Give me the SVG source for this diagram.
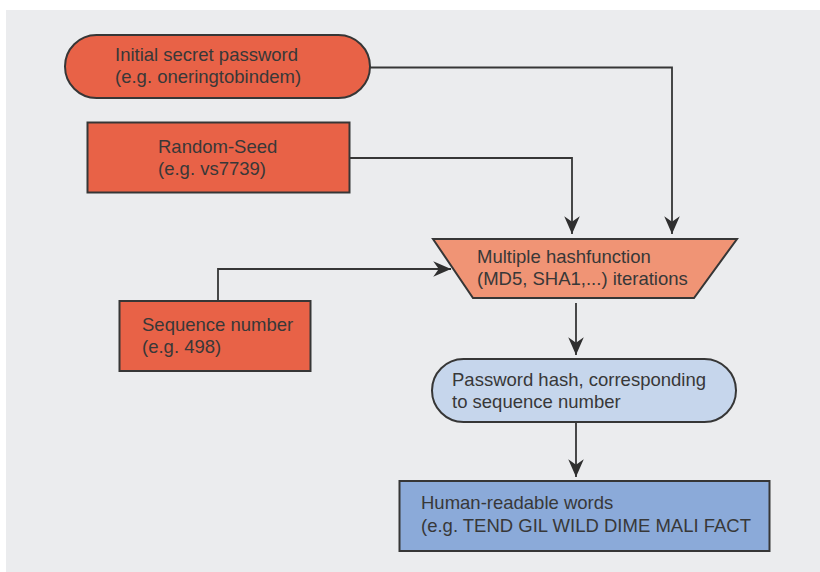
<svg xmlns="http://www.w3.org/2000/svg" width="820" height="572" viewBox="0 0 820 572">
  <style>
    .node { stroke: #363636; stroke-width: 2; }
    .red { fill: #E86247; }
    .salmon { fill: #F09475; }
    .pale { fill: #C6D6EC; }
    .blue { fill: #8BAAD9; }
    .label { font-family: "Liberation Sans", Arial, sans-serif; font-size: 18.5px; fill: #383838; }
    .wire { fill: none; stroke: #363636; stroke-width: 1.8; marker-end: url(#arrow); }
  </style>
  <defs>
    <marker id="arrow" markerUnits="userSpaceOnUse" markerWidth="20" markerHeight="20" viewBox="-17 -8 18 16" refX="0" refY="0" orient="auto">
      <path d="M0,0 L-16,-7 L-11,0 L-16,7 Z" fill="#2f2f2f"/>
    </marker>
  </defs>

  <rect x="0" y="0" width="820" height="572" fill="#ffffff"/>
  <rect x="6" y="10" width="814" height="562" fill="#EBECEE"/>

  <g id="connectors">
    <path class="wire" d="M370,67.5 H672 V234"/>
    <path class="wire" d="M350,158 H572 V234"/>
    <path class="wire" d="M218,300 V269 H451"/>
    <path class="wire" d="M576,303 V355"/>
    <path class="wire" d="M576,423 V477"/>
  </g>

  <g id="initial-password">
    <rect class="node red" x="65" y="35" width="305" height="63" rx="31.5"/>
    <text class="label" x="115" y="61">Initial secret password</text>
    <text class="label" x="115" y="83">(e.g. oneringtobindem)</text>
  </g>

  <g id="random-seed">
    <rect class="node red" x="87.5" y="122.5" width="262" height="70"/>
    <text class="label" x="158" y="153">Random-Seed</text>
    <text class="label" x="158" y="175">(e.g. vs7739)</text>
  </g>

  <g id="sequence-number">
    <rect class="node red" x="119.5" y="301" width="191" height="70"/>
    <text class="label" x="142" y="331">Sequence number</text>
    <text class="label" x="142" y="353">(e.g. 498)</text>
  </g>

  <g id="hash-iterations">
    <polygon class="node salmon" points="433,239 737,239 694,298 473,298"/>
    <text class="label" x="477" y="263">Multiple hashfunction</text>
    <text class="label" x="477" y="285">(MD5, SHA1,...) iterations</text>
  </g>

  <g id="password-hash">
    <rect class="node pale" x="432" y="359" width="304" height="63" rx="31.5"/>
    <text class="label" x="452" y="386">Password hash, corresponding</text>
    <text class="label" x="452" y="408">to sequence number</text>
  </g>

  <g id="readable-words">
    <rect class="node blue" x="399.5" y="481" width="370" height="70"/>
    <text class="label" x="421" y="509">Human-readable words</text>
    <text class="label" x="421" y="531.5">(e.g. TEND GIL WILD DIME MALI FACT</text>
  </g>
</svg>
